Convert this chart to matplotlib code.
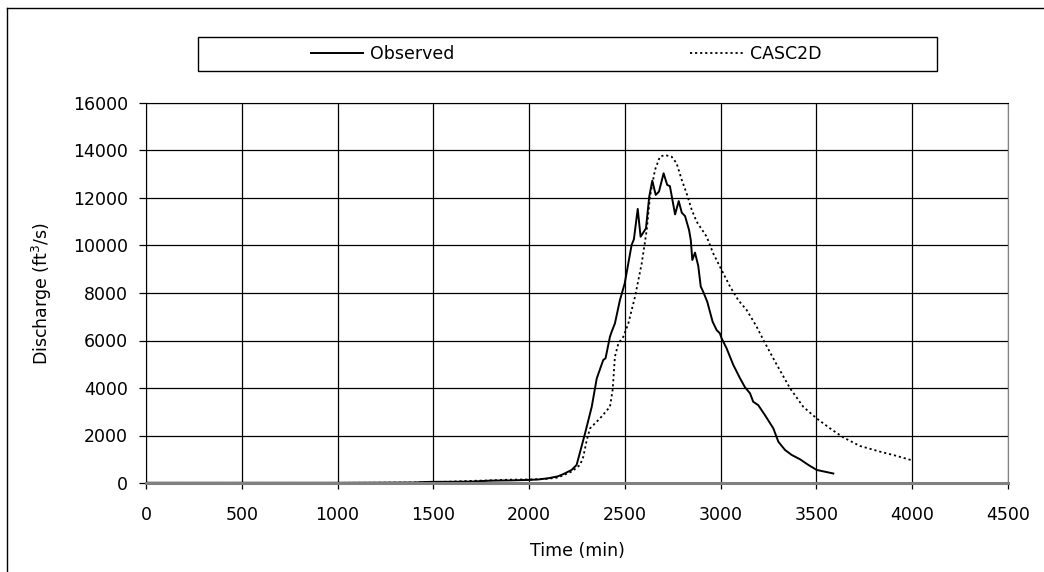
# Observed vs CASC2D hydrograph

import numpy as np
import matplotlib.pyplot as plt
from matplotlib.lines import Line2D
from matplotlib.patches import Rectangle

# observed discharge (ft3/s) vs time (min)
obs_t = [0, 200, 400, 600, 800, 1000, 1200, 1400, 1450, 1500, 1600, 1700, 1750,
         1800, 1900, 2000, 2050, 2100, 2150, 2180, 2222, 2248, 2292, 2327, 2353,
         2387, 2399, 2422, 2431, 2448, 2474, 2499, 2535, 2547, 2567, 2582, 2610,
         2627, 2643, 2661, 2678, 2702, 2721, 2735, 2762, 2781, 2797, 2814, 2835,
         2844, 2852, 2866, 2883, 2896, 2909, 2930, 2958, 2979, 2996, 3005, 3031,
         3066, 3101, 3127, 3153, 3170, 3196, 3231, 3275, 3301, 3336, 3371, 3414,
         3458, 3501, 3588]
obs_q = [10, 10, 10, 10, 10, 10, 15, 20, 40, 50, 50, 60, 80,
         100, 110, 130, 150, 200, 280, 380, 550, 760, 2090, 3210, 4400,
         5180, 5250, 6160, 6370, 6720, 7700, 8400, 10020, 10260, 11540, 10370, 10720,
         12050, 12730, 12130, 12270, 13040, 12550, 12500, 11310, 11870, 11380, 11240, 10650,
         10230, 9390, 9700, 9140, 8270, 8050, 7630, 6790, 6440, 6300, 6090, 5670,
         4970, 4410, 4030, 3780, 3420, 3280, 2860, 2300, 1740, 1390, 1180, 1000,
         760, 550, 400]

# CASC2D simulated discharge
sim_t = [0, 200, 400, 600, 800, 1000, 1200, 1400, 1500, 1600, 1700, 1800, 1900,
         2000, 2050, 2100, 2150, 2222, 2266, 2283, 2301, 2318, 2370, 2422, 2436,
         2448, 2466, 2492, 2518, 2553, 2588, 2614, 2631, 2657, 2683, 2709, 2744,
         2770, 2797, 2822, 2849, 2875, 2927, 2961, 2996, 3049, 3092, 3136, 3188,
         3223, 3284, 3362, 3431, 3501, 3571, 3640, 3727, 3832, 3919, 3992]
sim_q = [5, 5, 5, 5, 5, 5, 10, 20, 40, 60, 90, 110, 140,
         150, 160, 180, 230, 480, 760, 1110, 1810, 2300, 2720, 3210, 3920,
         5320, 5880, 6160, 6720, 7850, 9250, 10650, 12060, 13180, 13740, 13810, 13740,
         13460, 12760, 12200, 11500, 11000, 10370, 9670, 9110, 8270, 7700, 7280, 6580,
         6020, 5110, 3990, 3210, 2720, 2300, 1920, 1560, 1320, 1140, 970]

W, H = 1044, 572
plt.rcParams['font.family'] = ['DejaVu Sans']
plt.rcParams['font.size'] = 12.5

fig = plt.figure(figsize=(W / 100, H / 100), dpi=100)
ax = fig.add_axes([146 / W, 1 - 483 / H, (1008 - 146) / W, (483 - 103) / H])

l1, = ax.plot(obs_t, obs_q, color='black', lw=1.4, label='Observed')
l2, = ax.plot(sim_t, sim_q, color='black', lw=1.3, linestyle=(0, (1.2, 1.6)),
              label='CASC2D')

ax.set_xlim(0, 4500)
ax.set_ylim(0, 16000)
ax.set_xticks(np.arange(0, 4501, 500))
ax.set_yticks(np.arange(0, 16001, 2000))
ax.grid(True, color='black', lw=0.9)
ax.set_axisbelow(True)

ax.spines['left'].set_color('black')
ax.spines['top'].set_color('black')
ax.spines['right'].set_color('#808080')
ax.spines['bottom'].set_color('#808080')
ax.spines['bottom'].set_linewidth(2.2)
ax.tick_params(axis='y', direction='out', length=4.8, width=0.9, pad=8)
ax.tick_params(axis='x', direction='out', length=4, width=0.9, pad=12.5)

ax.set_xlabel('Time (min)', labelpad=13)
ax.set_ylabel('Discharge (ft$^3$/s)', labelpad=14)

# legend box across the top
fig.add_artist(Rectangle((198 / W, 1 - 71 / H), (937 - 198) / W, 34 / H,
                         transform=fig.transFigure, fill=False,
                         edgecolor='black', lw=1))
fig.legend(handles=[l1, l2], loc='center', ncol=2, frameon=False,
           bbox_to_anchor=(566 / W, 1 - 54 / H), handlelength=3,
           handletextpad=0.4, columnspacing=13.6)

# outer frame (left and top edges only)
fig.add_artist(Line2D([7 / W, 7 / W], [0, 1 - 8 / H], color='black', lw=1))
fig.add_artist(Line2D([7 / W, 1], [1 - 8 / H, 1 - 8 / H], color='black', lw=1))

fig.savefig('out.png', dpi=100)
